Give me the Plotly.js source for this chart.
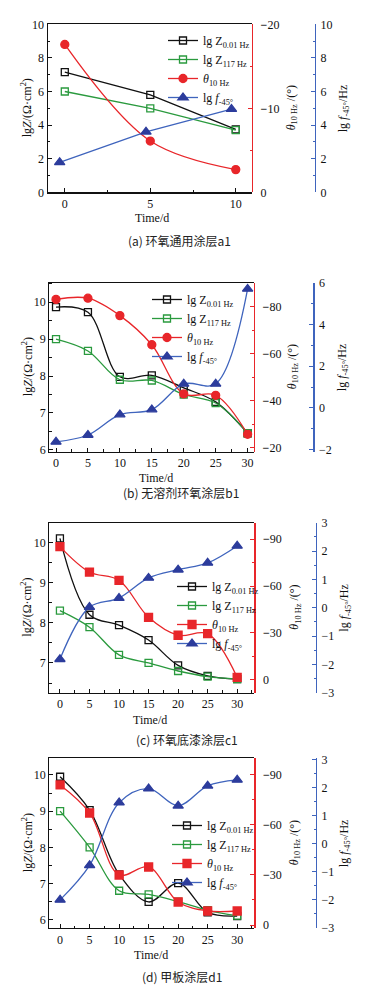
<!DOCTYPE html>
<html><head><meta charset="utf-8">
<script src="https://cdn.plot.ly/plotly-3.0.1.min.js"></script>
<style>body{margin:0;padding:0;background:#fff}#chart{width:370px;height:996px}</style>
</head><body><div id="chart"></div>
<script>
// ---------- data ----------
const timeA = [0, 5, 10];
const timeAf = [-0.3, 4.75, 9.75];
const zLowA = [7.15, 5.8, 3.75];
const zHighA = [6.0, 5.0, 3.7];
const thetaA = [-17.6, -6.1, -2.7];
const fA = [1.78, 3.6, 4.95];

const timeB = [0, 5, 10, 15, 20, 25, 30];
const zLowB = [9.87, 9.73, 7.98, 8.02, 7.68, 7.3, 6.45];
const zHighB = [9.0, 8.68, 7.9, 7.88, 7.5, 7.27, 6.45];
const thetaB = [-83.1, -83.6, -76.2, -63.8, -42.9, -42.3, -25.7];
const fB = [-1.63, -1.3, -0.32, -0.08, 1.15, 1.15, 5.7];

const timeC = [0, 5, 10, 15, 20, 25, 30];
const zLowC = [10.1, 8.2, 7.94, 7.57, 6.94, 6.68, 6.6];
const zHighC = [8.3, 7.89, 7.2, 7.0, 6.8, 6.66, 6.6];
const thetaC = [-85.3, -69, -63.7, -40, -28.5, -29.5, -1.5];
const fC = [-1.82, 0.02, 0.34, 1.05, 1.34, 1.58, 2.18];

const timeD = [0, 5, 10, 15, 20, 25, 30];
const zLowD = [9.95, 9.03, 7.25, 6.49, 7.01, 6.2, 6.1];
const zHighD = [9.0, 8.0, 6.8, 6.7, 6.5, 6.26, 6.11];
const thetaD = [-84, -67.2, -30, -34.8, -13.8, -8.4, -8.4];
const fD = [-2.0, -0.77, 1.46, 1.96, 1.35, 2.06, 2.27];

// tick labels of the phase-angle (red) axes
const redTicksA = [-20, -10, 0];
const redLabelsA = ['<b>−</b>20', '<b>−</b>10', '0'];
const redTicksB = [-80, -60, -40, -20];
const redLabelsB = ['<b>−</b>80', '<b>−</b>60', '<b>−</b>40', '<b>−</b>20'];
const redTicksCD = [-90, -60, -30, 0];
const redLabelsCD = ['<b>−</b>90', '<b>−</b>60', '<b>−</b>30', '0'];

const legendNames = [
  'lg Z<sub>0.01 Hz</sub>',
  'lg Z<sub>117 Hz</sub>',
  '<i>θ</i><sub>10 Hz</sub>',
  'lg <i>f</i><sub>-45°</sub>'
];
const captions = ['(a) 环氧通用涂层a1', '(b) 无溶剂环氧涂层b1', '(c) 环氧底漆涂层c1', '(d) 甲板涂层d1'];
const xTitle = 'Time/d';
const yLeftTitle = 'lg<i>Z</i>/(Ω·cm<sup>2</sup>)';
const yRedTitle = '<i>θ</i><sub>10 Hz</sub> /(°)';
const yBlueTitle = 'lg <i>f</i><sub>-45°</sub>/Hz';

// ---------- style ----------
const BLACK = '#111', GREEN = '#2a9a3e', RED = '#e8262a', BLUE = '#3f64bd', NAVY = '#2c3c9c';
const SERIF = 'Liberation Serif, serif';
const W = 370, H = 996;
const px = v => v / W, py = v => 1 - v / H;

const panels = [
  {t:[timeA,timeA,timeA,timeAf], z1:zLowA, z2:zHighA, th:thetaA, f:fA, thetaSym:'circle', shapes:['linear','linear','spline','linear'],
   xd:[47.7,252], yd:[24.3,192.3], blue:315, xr:[-1,10.95], xdt:5, xm:2.5,
   yl:[0,10], yldt:2, ylm:1, yr:[0,-20], rtv:redTicksA, rtt:redLabelsA, yrm:5, yb:[0,10], ybdt:2, ybm:1,
   leg:[163,26], cap:[179,240], tt:[152,218], lt:26, rt:292, bt:344},
  {t:[timeB,timeB,timeB,timeB], z1:zLowB, z2:zHighB, th:thetaB, f:fB, thetaSym:'circle', shapes:['spline','spline','spline','spline'],
   xd:[49.3,254], yd:[282.7,451.7], blue:313.3, xr:[-1.05,31], xdt:5, xm:2.5,
   yl:[5.95,10.53], yldt:1, ylm:0.5, yr:[-18.3,-90.2], rtv:redTicksB, rtt:redLabelsB, yrm:10, yb:[-2.1,6], ybdt:2, ybm:1,
   leg:[147,285], cap:[181,493], tt:[156,478], lt:27, rt:293, bt:343},
  {t:[timeC,timeC,timeC,timeC], z1:zLowC, z2:zHighC, th:thetaC, f:fC, thetaSym:'square', shapes:['spline','spline','spline','spline'],
   xd:[49.3,254.3], yd:[522.7,692.7], blue:316, xr:[-1.8,32.9], xdt:5, xm:2.5,
   yl:[6.26,10.49], yldt:1, ylm:0.5, yr:[8.3,-100.6], rtv:redTicksCD, rtt:redLabelsCD, yrm:15, yb:[-3,3], ybdt:1, ybm:0.5,
   leg:[172,572], cap:[187,739], tt:[150,720], lt:27, rt:295, bt:345},
  {t:[timeD,timeD,timeD,timeD], z1:zLowD, z2:zHighD, th:thetaD, f:fD, thetaSym:'square', shapes:['spline','spline','spline','spline'],
   xd:[49.3,254.3], yd:[758.3,928], blue:316, xr:[-1.83,32.9], xdt:5, xm:2.5,
   yl:[5.77,10.46], yldt:1, ylm:0.5, yr:[1.8,-100], rtv:redTicksCD, rtt:redLabelsCD, yrm:15, yb:[-3,3.04], ybdt:1, ybm:0.5,
   leg:[167,811], cap:[182,976], tt:[151,955], lt:27, rt:295, bt:345}
];

const data = [];
const layout = {width:W, height:H, margin:{l:0,r:0,t:0,b:0}, paper_bgcolor:'#fff', plot_bgcolor:'rgba(0,0,0,0)',
  showlegend:true, font:{family:SERIF, size:12, color:'#111'}, annotations:[]};

const tickFont = {family:SERIF, size:12, color:'#111'};

panels.forEach((p, i) => {
  const n = i + 1;
  const xa = n === 1 ? 'x' : 'x' + n;
  const yL = 3*i + 1, yR = 3*i + 2, yB = 3*i + 3;
  const yLn = yL === 1 ? 'y' : 'y' + yL;
  const legName = n === 1 ? 'legend' : 'legend' + n;
  const xdom = [px(p.xd[0]), px(p.xd[1])];
  const ydom = [py(p.yd[1]), py(p.yd[0])];

  const series = [
    {y:p.z1, c:BLACK, mc:BLACK, sym:'square-open', size:7, ax:yLn},
    {y:p.z2, c:GREEN, mc:GREEN, sym:'square-open', size:7, ax:yLn},
    {y:p.th, c:RED, mc:RED, sym:p.thetaSym, size:8, ax:'y'+yR},
    {y:p.f, c:BLUE, mc:NAVY, sym:'triangle-up', size:9, ax:'y'+yB}
  ];
  series.forEach((s, k) => {
    data.push({x:p.t[k], y:s.y, xaxis:xa, yaxis:s.ax, type:'scatter', mode:'lines+markers',
      name:legendNames[k], legend:legName,
      line:{color:s.c, width:1.3, shape:p.shapes[k], smoothing:1},
      marker:{symbol:s.sym, size:s.size, color:s.mc, line:{color:s.mc, width:1.3}}});
  });

  layout['xaxis' + (n===1?'':n)] = {domain:xdom, anchor:yLn, range:p.xr, dtick:p.xdt, tick0:0,
    showline:true, linecolor:'#111', linewidth:1.2, mirror:true, ticks:'inside', ticklen:4, tickcolor:'#111',
    minor:{dtick:p.xm, tick0:0, ticks:'inside', ticklen:2.5, tickcolor:'#111'},
    showgrid:false, zeroline:false, tickfont:tickFont};
  layout['yaxis' + (yL===1?'':yL)] = {domain:ydom, anchor:xa, range:p.yl, dtick:p.yldt, tick0:0,
    showline:true, linecolor:'#111', linewidth:1.2, ticks:'inside', ticklen:4, tickcolor:'#111',
    minor:{dtick:p.ylm, tick0:0, ticks:'inside', ticklen:2.5, tickcolor:'#111'},
    showgrid:false, zeroline:false, tickfont:tickFont};
  layout['yaxis' + yR] = {domain:ydom, anchor:'free', position:xdom[1], overlaying:yLn, side:'right', range:p.yr,
    tickmode:'array', tickvals:p.rtv, ticktext:p.rtt,
    showline:true, linecolor:RED, linewidth:1.2, ticks:'inside', ticklen:4, tickcolor:RED,
    minor:{dtick:p.yrm, tick0:0, ticks:'inside', ticklen:2.5, tickcolor:RED}, ticklabelstandoff:5,
    showgrid:false, zeroline:false, tickfont:tickFont};
  layout['yaxis' + yB] = {domain:ydom, anchor:'free', position:px(p.blue), overlaying:yLn, side:'right', range:p.yb, dtick:p.ybdt, tick0:0,
    showline:true, linecolor:BLUE, linewidth:1.2, ticks:'inside', ticklen:4, tickcolor:BLUE,
    minor:{dtick:p.ybm, tick0:0, ticks:'inside', ticklen:2.5, tickcolor:BLUE}, ticklabelstandoff:2,
    showgrid:false, zeroline:false, tickfont:tickFont};

  layout[legName] = {x:px(p.leg[0]), y:py(p.leg[1]), xanchor:'left', yanchor:'top', bgcolor:'rgba(0,0,0,0)',
    borderwidth:0, font:{family:SERIF, size:12, color:'#111'}, itemwidth:30, tracegroupgap:0};

  const cy = (p.yd[0] + p.yd[1]) / 2;
  const ann = (x, y, text, angle, font) => ({xref:'paper', yref:'paper', x:px(x), y:py(y), xanchor:'center', yanchor:'middle',
    text:text, textangle:angle, showarrow:false, font:font});
  const tf = {family:SERIF, size:12, color:'#111'};
  layout.annotations.push(
    ann(p.lt, cy, yLeftTitle, -90, tf),
    ann(p.rt, cy, yRedTitle, -90, tf),
    ann(p.bt, cy, yBlueTitle, -90, tf),
    ann(p.tt[0], p.tt[1], xTitle, 0, tf),
    ann(p.cap[0], p.cap[1], captions[i], 0, {family:'Noto Sans CJK SC', size:12, color:'#222'})
  );
});

Plotly.newPlot('chart', data, layout, {staticPlot:true, displayModeBar:false});
</script></body></html>
